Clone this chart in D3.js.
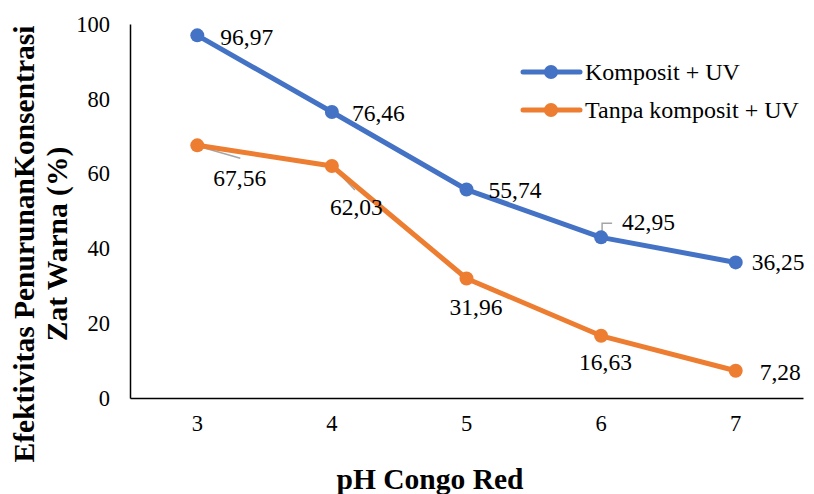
<!DOCTYPE html>
<html>
<head>
<meta charset="utf-8">
<script src="https://cdn.jsdelivr.net/npm/d3@7"></script>
<style>
  html, body { margin: 0; padding: 0; background: #fff; }
  svg { display: block; }
</style>
</head>
<body>
<svg id="chart" width="814" height="494"></svg>
<script>
// pH levels of the Congo Red solution
const categories = ["3", "4", "5", "6", "7"];
// Dye concentration reduction effectiveness (%)
const kompositUV = [96.97, 76.46, 55.74, 42.95, 36.25];
const tanpaKompositUV = [67.56, 62.03, 31.96, 16.63, 7.28];
const yTicks = [0, 20, 40, 60, 80, 100];
const seriesNames = ["Komposit + UV", "Tanpa komposit + UV"];

const FONT = "'Liberation Serif', 'Times New Roman', serif";
const fmt = v => v.toFixed(2).replace(".", ",");

const svg = d3.select("#chart");
const margin = { left: 130, right: 11, top: 24, bottom: 95 };
const W = 814, H = 494;

const x = d3.scaleBand().domain(categories)
  .range([margin.left, W - margin.right]).padding(0);
const y = d3.scaleLinear().domain([0, 100]).range([H - margin.bottom - 1, margin.top]);
const cx = c => x(c) + x.bandwidth() / 2;

// Axes
const yAxis = svg.append("g").attr("transform", `translate(${margin.left},0)`)
  .call(d3.axisLeft(y).tickValues(yTicks).tickSize(0).tickPadding(20));
const xAxis = svg.append("g").attr("transform", `translate(0,${y(0)})`)
  .call(d3.axisBottom(x).tickSize(0).tickPadding(17));
[yAxis, xAxis].forEach(g => {
  g.attr("font-family", null);
  g.select(".domain").attr("stroke", "#000").attr("stroke-width", 1.5);
  g.selectAll("text").style("font-family", FONT)
    .style("font-size", "22.5px").attr("fill", "#000");
});

// Axis titles
svg.append("text").attr("x", 430).attr("y", 489).attr("text-anchor", "middle")
  .style("font-family", FONT).style("font-size", "29.5px").style("font-weight", "bold")
  .text("pH Congo Red");
const yt = svg.append("text").attr("transform", "translate(34,244) rotate(-90)")
  .attr("text-anchor", "middle")
  .style("font-family", FONT).style("font-size", "29.5px").style("font-weight", "bold");
yt.append("tspan").attr("x", 0).attr("dy", 0).text("Efektivitas PenurunanKonsentrasi");
yt.append("tspan").attr("x", 0).attr("dy", 33).text("Zat Warna (%)");

const colors = ["#4472C4", "#ED7D31"];
const series = [kompositUV, tanpaKompositUV];

const line = d3.line().x((d, i) => cx(categories[i])).y(d => y(d));

// Leader lines for labels placed away from their points
const leaders = [
  { s: 1, i: 0, pts: [[1, 1], [43, 13]] },
  { s: 1, i: 1, pts: [[1, 1], [23, 24]] },
  { s: 0, i: 3, pts: [[1, 0], [1, -14], [11, -14]] }
];
leaders.forEach(l => {
  const px = cx(categories[l.i]), py = y(series[l.s][l.i]);
  svg.append("path")
    .attr("d", d3.line()(l.pts.map(p => [px + p[0], py + p[1]])))
    .attr("fill", "none").attr("stroke", "#A5A5A5").attr("stroke-width", 1.5);
});

series.forEach((vals, s) => {
  svg.append("path").datum(vals).attr("d", line)
    .attr("fill", "none").attr("stroke", colors[s]).attr("stroke-width", 5)
    .attr("stroke-linejoin", "round");
  svg.selectAll(null).data(vals).enter().append("circle")
    .attr("cx", (d, i) => cx(categories[i])).attr("cy", d => y(d))
    .attr("r", 7).attr("fill", colors[s]);
});

// Value labels (offsets from their points)
const labelOffsets = [
  [[23, 10], [20, 9], [22, 8], [21, -7], [16, 8]],
  [[16, 41], [-2, 49], [-17, 37], [-22, 34], [24, 9]]
];
series.forEach((vals, s) => {
  svg.selectAll(null).data(vals).enter().append("text")
    .attr("x", (d, i) => cx(categories[i]) + labelOffsets[s][i][0])
    .attr("y", (d, i) => y(d) + labelOffsets[s][i][1])
    .style("font-family", FONT).style("font-size", "23.5px").attr("fill", "#000")
    .text(d => fmt(d));
});

// Legend
const legend = svg.append("g");
seriesNames.forEach((name, s) => {
  const ly = 72 + s * 38;
  legend.append("line").attr("x1", 523).attr("x2", 580).attr("y1", ly).attr("y2", ly)
    .attr("stroke", colors[s]).attr("stroke-width", 5).attr("stroke-linecap", "round");
  legend.append("circle").attr("cx", 551).attr("cy", ly).attr("r", 7).attr("fill", colors[s]);
  legend.append("text").attr("x", 585).attr("y", ly + 8)
    .style("font-family", FONT).style("font-size", "24px")
    .attr("fill", "#000").text(name);
});
</script>
</body>
</html>
